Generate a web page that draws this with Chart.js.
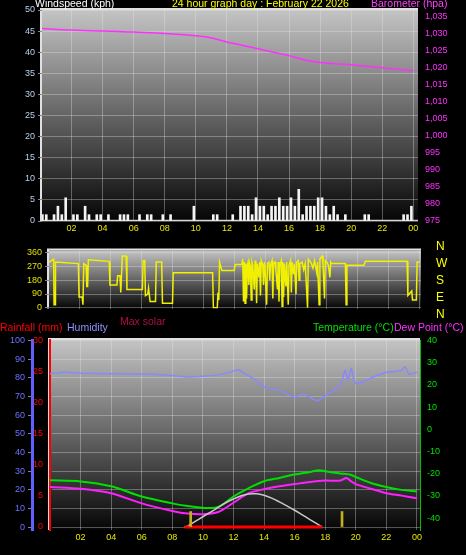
<!DOCTYPE html>
<html><head><meta charset="utf-8">
<script src="https://cdn.jsdelivr.net/npm/chart.js@4"></script>
<style>
body{margin:0;background:#000;width:466px;height:555px;overflow:hidden;position:relative;font-family:"Liberation Sans",Arial,sans-serif}
canvas{position:absolute;left:0}
.t{position:absolute;font-size:10.5px;white-space:nowrap;line-height:12px}
</style></head><body>
<canvas id="c1" style="top:0" width="466" height="242"></canvas>
<canvas id="c2" style="top:242px" width="466" height="75"></canvas>
<canvas id="c3" style="top:317px" width="466" height="238"></canvas>
<div class="t" style="left:35px;top:-3px;color:#fff">Windspeed (kph)</div>
<div class="t" style="left:172px;top:-3px;color:#ffff00">24 hour graph day : February 22 2026</div>
<div class="t" style="left:371px;top:-3px;color:#ff40ff">Barometer (hpa)</div>
<div class="t" style="left:436px;top:238px;color:#ffff00;line-height:17px;font-size:12px">N<br>W<br>S<br>E<br>N</div>
<div class="t" style="left:120px;top:315px;color:#b01040">Max solar</div>
<div class="t" style="left:0px;top:321px;color:#ff0000">Rainfall (mm)</div>
<div class="t" style="left:67px;top:321px;color:#9090ff">Humidity</div>
<div class="t" style="left:313px;top:321px;color:#00e000">Temperature (°C)</div>
<div class="t" style="left:394px;top:321px;color:#ff30ff">Dew Point (°C)</div>
<script>
const hourTicks=[2,4,6,8,10,12,14,16,18,20,22,24];
const hourLabels=["02","04","06","08","10","12","14","16","18","20","22","00"];
// wind speed every 15 minutes
const windSpeed=[1.5,1.5,0,1.5, 3.5,1.5,5.5,0, 1.5,1.5,0,3.5, 1.5,0,1.5,1.5, 0,1.5,0,0, 1.5,1.5,1.5,0, 0,1.5,0,1.5, 1.5,0,0,1.5, 0,1.5,0,0, 0,0,0,3.5, 0,0,0,0, 1.5,1.5,0,0, 0,1.5,0,3.5, 3.5,3.5,1.5,5.5, 3.5,3.5,1.5,3.5, 3.5,5.5,3.5,3.5, 5.5,3.5,7.5,1.5, 3.5,3.5,3.5,5.5, 5.5,3.5,1.5,3.5, 1.5,0,1.5,0, 0,0,0,1.5, 1.5,0,0,0, 0,0,0,0, 0,1.5,1.5,3.5];
const pressHours=[0,2,4,5,6,8,10,11,12,13,14,15,16,17,18,19,20,21,22,23,24];
const pressure=[1031.6,1031.1,1030.8,1030.7,1030.5,1030.1,1029.4,1028.8,1027.6,1026.6,1025.6,1024.6,1023.6,1022.3,1021.6,1021.2,1020.9,1020.5,1020,1019.6,1019.2];
const windDir=[[0,300],[0.3,320],[0.33,20],[0.4,20],[0.42,300],[1.9,290],[1.95,70],[2.15,70],[2.2,20],[2.25,290],[2.4,280],[2.45,140],[2.5,140],[2.55,315],[3.9,305],[3.95,150],[4.4,150],[4.45,210],[4.6,210],[4.65,100],[4.75,340],[5.0,340],[5.05,120],[6.05,120],[6.1,310],[6.2,310],[6.25,80],[6.4,90],[6.45,130],[6.55,40],[6.9,40],[6.95,300],[7.3,300],[7.35,30],[8.0,30],[8.05,230],[10.6,230],[10.65,0],[10.9,0],[10.95,100],[11.0,50],[11.05,300],[11.2,245],[12.0,245],[12.05,285],[12.5,285],
[12.55,320],[12.6,40],[12.65,300],[12.7,30],[12.75,290],[12.8,60],[12.85,280],[12.9,300],[12.95,150],[13.0,290],[13.05,270],[13.1,50],[13.15,300],[13.2,280],[13.3,120],[13.35,310],[13.4,260],[13.45,30],[13.5,290],[13.6,200],[13.65,300],[13.7,80],[13.75,310],[13.85,280],[13.9,150],[13.95,300],[14.0,250],[14.1,20],[14.15,290],[14.25,300],[14.3,180],[14.35,280],[14.45,310],[14.5,60],[14.55,290],[14.65,300],[14.7,250],[14.8,120],[14.85,300],[14.9,40],[14.95,280],[15.05,310],[15.1,10],[15.15,300],[15.2,70],[15.25,290],[15.35,140],[15.4,300],[15.5,20],[15.55,280],[15.65,310],[15.7,100],[15.75,300],[15.85,220],[15.9,290],[16.0,90],[16.05,300],[16.15,310],[16.2,180],[16.25,290],[16.4,300],[16.5,250],[16.6,290],[16.75,0],[16.8,320],[16.95,300],[17.0,290],[17.1,260],[17.2,310],[17.35,230],[17.4,300],[17.5,20],[17.55,320],[17.7,340],[17.75,290],[17.85,60],[17.9,310],[18.0,300],[18.1,280],[18.2,200],[18.25,300],[18.3,290],
[19.2,290],[19.25,20],[19.3,280],[20.4,280],[20.5,305],[23.2,305],[23.25,80],[23.5,110],[23.55,50],[23.8,50],[23.85,300],[24,300]];
const tHours=[0,2,4,6,8,9,10,11,12,13,14,15,16,17,17.6,18,19,19.6,20,21,22,23,24];
const temperature=[-23,-23.5,-25.7,-30.3,-33.4,-34.6,-35.4,-35,-30.3,-26.5,-23.4,-21.9,-20.4,-19.2,-18.4,-18.9,-19.9,-20.4,-21.5,-24.2,-26,-27.3,-28];
const dHours=[0,2,4,6,8,9,10,11,12,13,14,15,16,17,18,19,19.4,19.7,20,21,22,23,24];
const dewPoint=[-26,-26.8,-28.8,-33.4,-36.8,-38,-38.3,-37.3,-33.1,-28.8,-27,-25.7,-24.7,-23.7,-23.1,-23.1,-21.9,-23.5,-24.7,-26.8,-28.8,-29.9,-31.1];
const hHours=[0,1,2,4,6,8,9,10,11,12,12.3,12.8,13.5,14,15,16,16.5,17,17.5,18,18.5,19,19.3,19.5,19.7,20,21,22,23,23.2,23.5,24];
const humidity=[82.2,83,82.5,82.2,82,81.2,80.4,80.8,81.6,83.6,84.4,82,78.6,75,73.3,69.5,71.3,69.5,67.7,70.4,73,75.8,84,78.6,85.2,76.8,80,83,84,86,82,83];
const solarHours=[8.8,9,9.5,10,10.5,11,11.5,12,12.5,13,13.5,14,14.5,15,15.5,16,16.5,17,17.5,17.8];
const maxSolar=[0,0.5,3,5.5,8,10.5,13,15,16.8,17.7,17.8,17,15.5,13.5,11.3,9,6.5,4,1.5,0];
const solarBarHours=[9.2,19.1];
const solarBars=[8.3,8.3];
const rainHours=[0,24];
const rain=[0,0];

const pts=(xs,ys)=>xs.map((x,i)=>({x,y:ys[i]}));
const bg={id:'bg',beforeDraw(c){const a=c.chartArea,x=c.ctx;const g=x.createLinearGradient(0,a.top,0,a.bottom);g.addColorStop(0,'#c4c4c4');g.addColorStop(1,'#050505');x.save();x.fillStyle=g;x.fillRect(a.left,a.top,a.right-a.left,a.bottom-a.top);x.strokeStyle='#e0e0e0';x.lineWidth=2;x.beginPath();x.moveTo(a.left-1,a.bottom);x.lineTo(a.left-1,a.top-1);x.lineTo(a.right,a.top-1);x.stroke();x.restore();}};
const F={family:'"Liberation Sans",Arial',size:9};
const grid={color:'rgba(230,230,230,0.35)',borderDash:[1,2],drawTicks:true,tickLength:4,tickColor:'#888'};
function xAxis(min,max,h,show){return {type:'linear',min,max,offset:false,afterBuildTicks:s=>{s.ticks=hourTicks.map(v=>({value:v}))},
 ticks:{display:show,color:'#e8e800',font:F,autoSkip:false,maxRotation:0,padding:2,callback:v=>hourLabels[hourTicks.indexOf(v)]},
 grid:Object.assign({},grid,{drawTicks:false,offset:false}),border:{display:false},afterFit:s=>{s.height=h}};}
function yAxis(pos,min,max,ticks,color,w,showGrid){return {type:'linear',position:pos,min,max,afterBuildTicks:s=>{s.ticks=ticks.map(v=>({value:v}))},
 ticks:{color,font:F,padding:3},grid:showGrid?grid:{display:false,drawTicks:true,tickLength:4,tickColor:color},border:{display:false},afterFit:s=>{s.width=w}};}
const rng=(a,b,s)=>{const r=[];for(let v=a;v<=b;v+=s)r.push(v);return r};
Chart.defaults.animation=false;Chart.defaults.plugins.legend.display=false;Chart.defaults.plugins.tooltip.enabled=false;
Chart.defaults.responsive=false;

new Chart(document.getElementById('c1'),{data:{datasets:[
 {type:'bar',xAxisID:'x',yAxisID:'y',data:windSpeed.map((v,i)=>({x:i*0.25+0.125,y:v})),backgroundColor:'#f4f4f4',barThickness:2},
 {type:'line',xAxisID:'x',yAxisID:'y',data:[{x:0,y:0.1},{x:24.3,y:0.1}],borderColor:'#d0d0d0',borderWidth:1.5,pointRadius:0},
 {type:'line',xAxisID:'x',yAxisID:'p',data:pts(pressHours,pressure),borderColor:'#ff30ff',borderWidth:1.5,pointRadius:0,tension:0.3}]},
 options:{layout:{padding:{top:10,left:0,right:0,bottom:0}},scales:{
  x:xAxis(0.1,24.3,21,true),
  y:yAxis('left',0,50,rng(0,50,5),'#b8d0f0',42,true),
  p:yAxis('right',975,1037,rng(975,1035,5),'#ff30ff',48,false)}},plugins:[bg]});

new Chart(document.getElementById('c2'),{data:{datasets:[
 {type:'line',data:windDir.map(p=>({x:p[0],y:p[1]})),borderColor:'#f0f000',borderWidth:1.5,pointRadius:0,tension:0}]},
 options:{layout:{padding:{top:2,left:0,right:0,bottom:0}},scales:{
  x:xAxis(0,24.1,6,false),
  y:yAxis('left',-6,377,[0,90,180,270,360],'#e0e000',49,true),
  r:Object.assign(yAxis('right',-6,377,[],'#000',45,false),{ticks:{display:false}})}},plugins:[bg]});

new Chart(document.getElementById('c3'),{data:{datasets:[
 {type:'bar',xAxisID:'x',yAxisID:'h',data:pts(solarBarHours,solarBars),backgroundColor:'#c0b020',barThickness:2},
 {type:'line',xAxisID:'x',yAxisID:'r',data:pts(rainHours,rain),borderColor:'#ff9090',borderWidth:2,pointRadius:0},
 {type:'line',xAxisID:'x',yAxisID:'h',data:[{x:8.8,y:0},{x:17.8,y:0}],borderColor:'#ff0000',borderWidth:3,pointRadius:0},
 {type:'line',xAxisID:'x',yAxisID:'h',data:pts(solarHours,maxSolar),borderColor:'#c8c8c8',borderWidth:1.5,pointRadius:0,tension:0.4},
 {type:'line',xAxisID:'x',yAxisID:'h',data:pts(hHours,humidity),borderColor:'#8888ff',borderWidth:1.5,pointRadius:0,tension:0.2},
 {type:'line',xAxisID:'x',yAxisID:'t',data:pts(tHours,temperature),borderColor:'#00e000',borderWidth:2,pointRadius:0,tension:0.3},
 {type:'line',xAxisID:'x',yAxisID:'t',data:pts(dHours,dewPoint),borderColor:'#ff20ff',borderWidth:2,pointRadius:0,tension:0.3}]},
 options:{layout:{padding:{top:23,left:0,right:0,bottom:0}},scales:{
  x:xAxis(0,24.2,25,true),
  h:Object.assign(yAxis('left',-1.6,100.3,rng(0,100,10),'#7070ff',32,true),{weight:1,border:{display:true,color:'#6060ff',width:3}}),
  r:Object.assign(yAxis('left',-0.5,30.1,rng(0,30,5),'#ff0000',18,false),{weight:0,border:{display:true,color:'#ff0000',width:2}}),
  t:Object.assign(yAxis('right',-45.4,40.3,rng(-40,40,10),'#00e000',46,false),{border:{display:true,color:'#00c000',width:1}})}},plugins:[bg]});
</script></body></html>
